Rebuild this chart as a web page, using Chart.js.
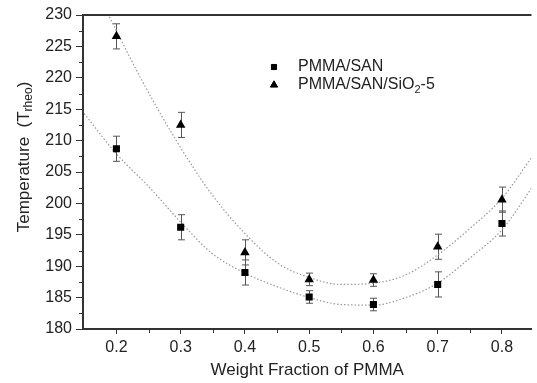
<!DOCTYPE html>
<html><head><meta charset="utf-8">
<script src="https://cdn.jsdelivr.net/npm/chart.js@4"></script>
<style>html,body{margin:0;padding:0;background:#fff;overflow:hidden}canvas{display:block}</style>
</head><body>
<canvas id="c" width="537" height="383"></canvas>
<script>
// ---- data ----
const fractions = [0.2, 0.3, 0.4, 0.5, 0.6, 0.7, 0.8];
const pmmaSan = [208.7, 196.2, 189.0, 185.1, 183.9, 187.1, 196.8];
const pmmaSanErr = [2, 2, 2, 1, 1, 2, 2];
const pmmaSanSiO2 = [226.6, 212.5, 192.2, 187.9, 187.8, 193.1, 200.6];
const pmmaSanSiO2Err = [2, 2, 2, 1, 1, 2, 2];

// dotted fit curves
const fitLowerX = [0.150, 0.199, 0.250, 0.302, 0.348, 0.400, 0.451, 0.497, 0.550, 0.600, 0.650, 0.700, 0.750, 0.800, 0.846];
const fitLowerY = [214.3, 208.0, 202.7, 196.8, 192.1, 188.9, 186.7, 185.1, 183.9, 183.8, 185.0, 187.3, 191.3, 195.8, 202.4];
const fitUpperX = [0.189, 0.238, 0.292, 0.348, 0.400, 0.451, 0.500, 0.550, 0.600, 0.650, 0.700, 0.750, 0.800, 0.846];
const fitUpperY = [229.7, 219.9, 210.2, 201.5, 195.2, 190.5, 188.2, 187.1, 187.3, 188.6, 191.8, 196.0, 200.8, 207.3];

const xTickValues = [0.2, 0.3, 0.4, 0.5, 0.6, 0.7, 0.8];
const xMinorTicks = [0.25, 0.35, 0.45, 0.55, 0.65, 0.75];
const yTickValues = [180, 185, 190, 195, 200, 205, 210, 215, 220, 225, 230];
const yMinorTicks = [182.5, 187.5, 192.5, 197.5, 202.5, 207.5, 212.5, 217.5, 222.5, 227.5];
const seriesNames = ['PMMA/SAN', 'PMMA/SAN/SiO2-5'];
const xTitle = 'Weight Fraction of PMMA';
const yTitleMain = 'Temperature  (T';
const yTitleSub = 'rheo';
const yTitleEnd = ')';

const FONT = '"Liberation Sans", Arial, Helvetica, sans-serif';
const TXT = '#222';
const AXIS = '#333';

const pts = (xs, ys) => xs.map((x, i) => ({x: x, y: ys[i]}));

const errorBars = {
  id: 'errorBars',
  beforeDatasetsDraw(chart) {
    const ctx = chart.ctx, xs = chart.scales.x, ys = chart.scales.y;
    const sets = [[pmmaSan, pmmaSanErr], [pmmaSanSiO2, pmmaSanSiO2Err]];
    ctx.save();
    ctx.strokeStyle = '#555';
    ctx.lineWidth = 1;
    sets.forEach(([vals, errs]) => {
      vals.forEach((v, i) => {
        const px = Math.round(xs.getPixelForValue(fractions[i])) + 0.5;
        const y1 = ys.getPixelForValue(v + errs[i]);
        const y2 = ys.getPixelForValue(v - errs[i]);
        ctx.beginPath();
        ctx.moveTo(px, y1); ctx.lineTo(px, y2);
        ctx.moveTo(px - 3.5, y1); ctx.lineTo(px + 3.5, y1);
        ctx.moveTo(px - 3.5, y2); ctx.lineTo(px + 3.5, y2);
        ctx.stroke();
      });
    });
    ctx.restore();
  }
};

const decor = {
  id: 'decor',
  afterDraw(chart) {
    const ctx = chart.ctx, a = chart.chartArea, xs = chart.scales.x, ys = chart.scales.y;
    ctx.save();
    // top frame line
    ctx.strokeStyle = AXIS; ctx.lineWidth = 2;
    ctx.beginPath(); ctx.moveTo(a.left - 1, a.top); ctx.lineTo(a.right, a.top); ctx.stroke();
    // minor ticks
    ctx.lineWidth = 1;
    ctx.beginPath();
    xMinorTicks.forEach(v => { const p = Math.round(xs.getPixelForValue(v)) + 0.5; ctx.moveTo(p, a.bottom); ctx.lineTo(p, a.bottom + 4); });
    yMinorTicks.forEach(v => { const p = Math.round(ys.getPixelForValue(v)) + 0.5; ctx.moveTo(a.left, p); ctx.lineTo(a.left - 4, p); });
    ctx.stroke();

    // y axis title with subscript
    ctx.fillStyle = TXT;
    ctx.textBaseline = 'middle';
    const big = '17px ' + FONT, small = '12px ' + FONT;
    ctx.font = big; const w1 = ctx.measureText(yTitleMain).width; const w3 = ctx.measureText(yTitleEnd).width;
    ctx.font = small; const w2 = ctx.measureText(yTitleSub).width;
    const total = w1 + w2 + w3;
    ctx.translate(24, (a.top + a.bottom) / 2 - 15);
    ctx.rotate(-Math.PI / 2);
    let x = -total / 2;
    ctx.font = big; ctx.fillText(yTitleMain, x, 0); x += w1;
    ctx.font = small; ctx.fillText(yTitleSub, x, 5); x += w2;
    ctx.font = big; ctx.fillText(yTitleEnd, x, 0);
    ctx.setTransform(1, 0, 0, 1, 0, 0);

    // legend
    const lx = a.left + 191, ly1 = a.top + 52, ly2 = a.top + 70;
    ctx.fillStyle = '#000'; ctx.strokeStyle = '#000';
    Chart.helpers.drawPoint(ctx, {pointStyle: 'rect', radius: 3.6, rotation: 0, borderWidth: 1}, lx, ly1);
    ctx.fill();
    Chart.helpers.drawPoint(ctx, {pointStyle: 'triangle', radius: 4.2, rotation: 0, borderWidth: 1}, lx, ly2);
    ctx.fill();
    ctx.fillStyle = TXT;
    ctx.font = '16px ' + FONT; ctx.textBaseline = 'middle';
    const tx = lx + 24;
    ctx.fillText(seriesNames[0], tx, ly1);
    const base = 'PMMA/SAN/SiO';
    ctx.fillText(base, tx, ly2);
    let bx = tx + ctx.measureText(base).width;
    ctx.font = '11px ' + FONT; ctx.fillText('2', bx, ly2 + 5); bx += ctx.measureText('2').width;
    ctx.font = '16px ' + FONT; ctx.fillText('-5', bx, ly2);
    ctx.restore();
  }
};

new Chart(document.getElementById('c'), {
  type: 'scatter',
  data: {
    datasets: [
      {label: seriesNames[0], data: pts(fractions, pmmaSan), pointStyle: 'rect', pointRadius: 5, backgroundColor: '#000', borderColor: '#000', borderWidth: 0},
      {label: seriesNames[1], data: pts(fractions, pmmaSanSiO2), pointStyle: 'triangle', pointRadius: 5.5, backgroundColor: '#000', borderColor: '#000', borderWidth: 0},
      {label: 'fit lower', data: pts(fitLowerX, fitLowerY), showLine: true, pointRadius: 0, borderColor: '#999', borderWidth: 1.2, borderDash: [1.5, 2], cubicInterpolationMode: 'monotone', fill: false},
      {label: 'fit upper', data: pts(fitUpperX, fitUpperY), showLine: true, pointRadius: 0, borderColor: '#999', borderWidth: 1.2, borderDash: [1.5, 2], cubicInterpolationMode: 'monotone', fill: false}
    ]
  },
  options: {
    responsive: false,
    animation: false,
    layout: {padding: {top: 15, right: 0, left: 0, bottom: 0}},
    plugins: {legend: {display: false}, tooltip: {enabled: false}},
    scales: {
      x: {
        type: 'linear', min: 0.148, max: 0.846,
        afterBuildTicks: s => { s.ticks = xTickValues.map(v => ({value: v})); },
        afterFit: s => { s.height = 54; },
        grid: {drawOnChartArea: false, drawTicks: true, tickLength: 5, tickColor: AXIS},
        border: {display: true, color: AXIS, width: 2},
        ticks: {color: TXT, font: {family: FONT, size: 16}, padding: 4, maxRotation: 0, autoSkip: false,
          callback: v => String(Math.round(v * 10) / 10)},
        title: {display: true, text: xTitle, color: TXT, font: {family: FONT, size: 17}, padding: {top: 2, bottom: 2}}
      },
      y: {
        type: 'linear', min: 180, max: 230,
        afterBuildTicks: s => { s.ticks = yTickValues.map(v => ({value: v})); },
        afterFit: s => { s.width = 83; },
        grid: {drawOnChartArea: false, drawTicks: true, tickLength: 7, tickColor: AXIS},
        border: {display: true, color: AXIS, width: 2},
        ticks: {color: TXT, font: {family: FONT, size: 16}, padding: 4, autoSkip: false,
          callback: v => String(v)}
      }
    }
  },
  plugins: [errorBars, decor]
});
</script>
</body></html>
